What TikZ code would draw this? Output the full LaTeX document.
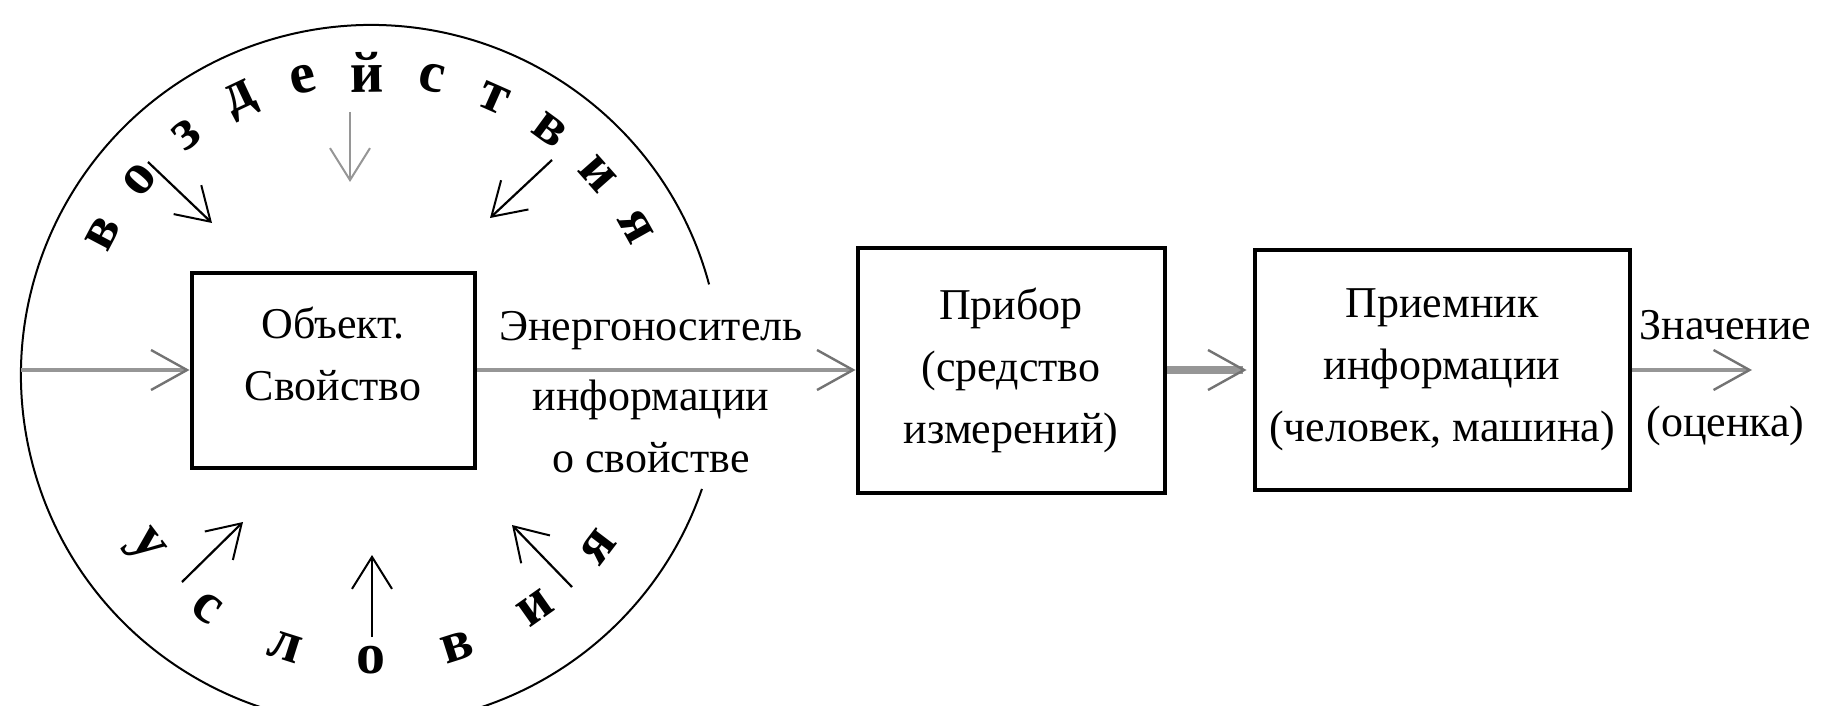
\documentclass[tikz,border=0pt]{standalone}
\usepackage{fontspec}
\setmainfont{Liberation Serif}
\usepackage{xcolor}
\usepackage{tikz}
\usetikzlibrary{arrows.meta}

\definecolor{linegray}{RGB}{150,150,150}

\begin{document}
\begin{tikzpicture}[x=0.5pt,y=-0.5pt,
box/.style={draw,line width=2pt,inner sep=0pt,align=center},
letter/.style={font=\fontsize{29}{29}\bfseries\selectfont,inner sep=0pt},
feed/.style={linegray,line width=1.6pt,-{Straight Barb[length=18pt,width=20pt,line width=1.2pt,color=black!55]}},
act/.style={line width=1.1pt,-{Straight Barb[length=16pt,width=20pt,line width=1pt]}}]
\tikzstyle{every node}=[font=\fontsize{22}{31}\selectfont,text=black]
\useasboundingbox (0,0) rectangle (1827,706);

    \coordinate (C) at (371,375);
    \draw[line width=1pt] (C) ++(15:175pt) arc[start angle=15,end angle=341,radius=175pt];

    \node[box,minimum width=141.5pt,minimum height=97.5pt] (Object) at (333,370) {};
    \node[align=center] (ObjectText) at ([yshift=8pt]Object.center) {Объект.\\Свойство};
    \node[box,minimum width=153.5pt,minimum height=122.5pt] (Device) at (1011,370) {Прибор\\(средство\\измерений)};
    \node[box,minimum width=187.5pt,minimum height=120pt] (Receiver) at (1442,370) {Приемник\\информации\\(человек, машина)};

    \coordinate (In) at (21,370);
    \coordinate (Out) at (1752,370);
    \draw[feed] (In) -- (Object);
    \draw[feed] (Object) -- (Device)
        node[pos=0.46,above=6pt,name=Carrier] {Энергоноситель}
        node[pos=0.46,below=1pt,align=center,name=CarrierInfo] {информации\\о свойстве};
    \draw[feed,line width=4pt,shorten >=3pt] (Device) -- (Receiver);
    \draw[feed] (Receiver) -- (Out)
        node[pos=0.78,above=11pt,name=Value] {Значение}
        node[pos=0.78,below=14pt,name=Estimate] {(оценка)};

   % letters round the circle
    \foreach \ch [count=\i from 0] in {в,о,з,д,е,й,с,т,в,и,я} {
        \pgfmathsetmacro\ang{152.2-12.3*\i}
        \node[letter,rotate=\ang-90] (Top-\i) at ([shift={(\ang:151.5pt)}]C) {\ch};
    }
    \foreach \ch [count=\i from 0] in {у,с,л,о,в,и,я} {
        \pgfmathsetmacro\ang{217.2+17.6*\i}
        \node[letter,rotate=\ang+90] (Bottom-\i) at ([shift={(\ang:142.5pt)}]C) {\ch};
    }

   % arrows inside the circle
    \coordinate (TopL) at (148,162);   \coordinate (TopL-end) at (212,223);
    \coordinate (TopM) at (350,112);   \coordinate (TopM-end) at (350,182);
    \coordinate (TopR) at (552,160);   \coordinate (TopR-end) at (490,218);
    \coordinate (BotL) at (182,582);   \coordinate (BotL-end) at (243,522);
    \coordinate (BotM) at (372,637);   \coordinate (BotM-end) at (372,555);
    \coordinate (BotR) at (572,587);   \coordinate (BotR-end) at (512,525);
    \draw[act] (TopL) -- (TopL-end);
    \draw[act,linegray] (TopM) -- (TopM-end);
    \draw[act] (TopR) -- (TopR-end);
    \draw[act] (BotL) -- (BotL-end);
    \draw[act] (BotM) -- (BotM-end);
    \draw[act] (BotR) -- (BotR-end);

\end{tikzpicture}
\end{document}
